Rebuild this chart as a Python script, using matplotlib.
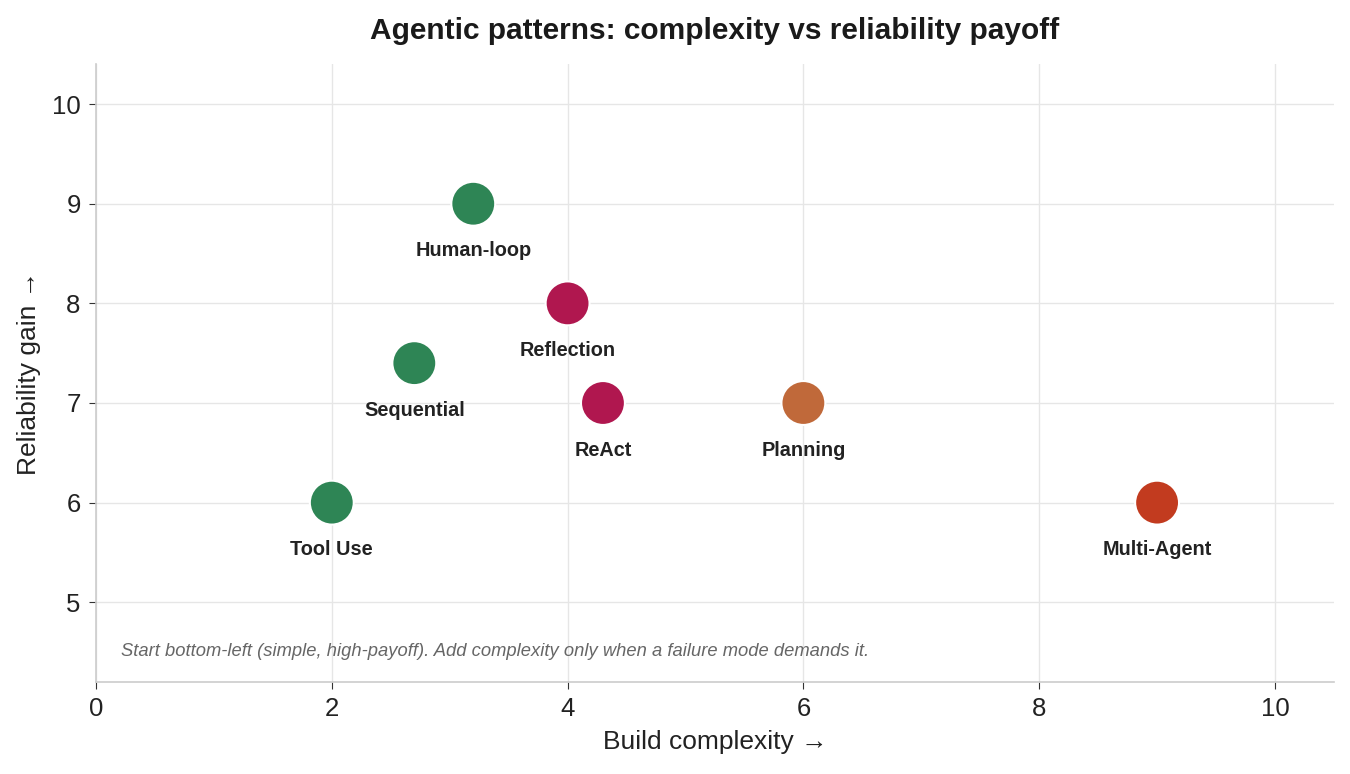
import matplotlib
matplotlib.use("Agg")
from matplotlib import pyplot as plt

plt.rcParams['font.family'] = ['Liberation Sans', 'DejaVu Sans']

PATTERNS = ["Tool Use", "Sequential", "Human-loop", "Reflection", "ReAct", "Planning", "Multi-Agent"]
COMPLEXITY = [2.0, 2.7, 3.2, 4.0, 4.3, 6.0, 9.0]
RELIABILITY = [6.0, 7.4, 9.0, 8.0, 7.0, 7.0, 6.0]
COLORS = ["#2e8555", "#2e8555", "#2e8555", "#b0174f", "#b0174f", "#c0693a", "#c23b1f"]

NOTE = "Start bottom-left (simple, high-payoff). Add complexity only when a failure mode demands it."


def main():
    fig = plt.figure(figsize=(13.5, 7.74), dpi=100)
    ax = fig.add_axes([0.0711, 0.1189, 0.9170, 0.7981])

    ax.scatter(COMPLEXITY, RELIABILITY, s=1000, c=COLORS, edgecolors="white",
               linewidths=1.5, zorder=3)
    for name, x, y in zip(PATTERNS, COMPLEXITY, RELIABILITY):
        ax.annotate(name, (x, y), xytext=(0, -34), textcoords="offset points",
                    ha="center", va="center", fontsize=14.3, fontweight="bold",
                    color="#222222")

    ax.set_xlim(0, 10.5)
    ax.set_ylim(4.2, 10.4)
    ax.set_xticks([0, 2, 4, 6, 8, 10])
    ax.set_yticks([5, 6, 7, 8, 9, 10])
    ax.grid(True, color="#e6e6e6", linewidth=1)
    ax.set_axisbelow(True)
    for side in ["top", "right"]:
        ax.spines[side].set_visible(False)
    for side in ["left", "bottom"]:
        ax.spines[side].set_color("#cccccc")
        ax.spines[side].set_linewidth(1.2)
    ax.tick_params(labelsize=18.5, labelcolor="#222222", color="#333333",
                   length=5, pad=6)

    ax.set_xlabel("Build complexity →", fontsize=19, color="#222222", labelpad=6)
    ax.set_ylabel("Reliability gain →", fontsize=19, color="#222222", labelpad=8)
    ax.set_title("Agentic patterns: complexity vs reliability payoff", fontsize=21.5,
                 fontweight="bold", color="#1a1a1a", pad=18)

    ax.text(0.02, 0.05, NOTE, transform=ax.transAxes, fontsize=13.2,
            style="italic", color="#666666", ha="left", va="center")

    fig.savefig("out.png", dpi=100)


if __name__ == "__main__":
    main()
